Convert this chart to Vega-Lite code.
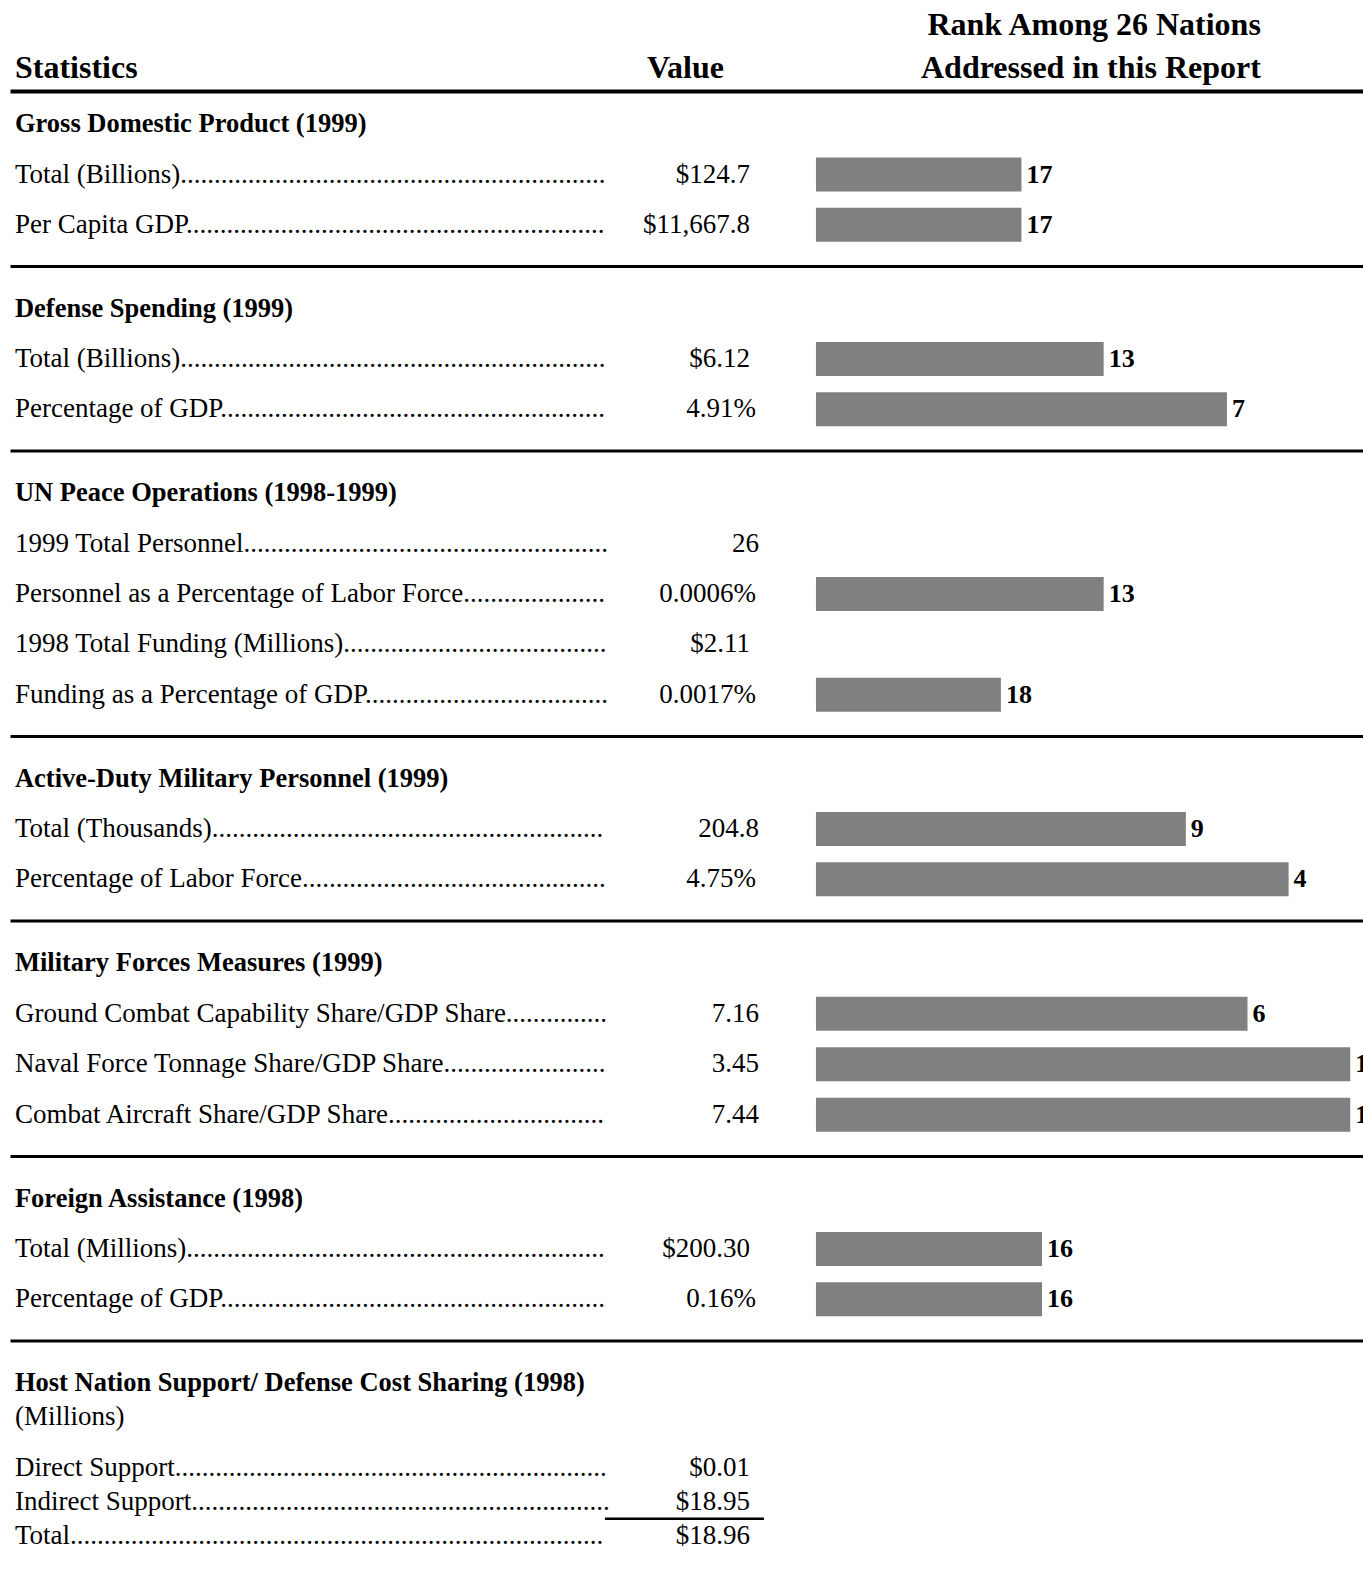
{
  "$schema": "https://vega.github.io/schema/vega-lite/v6.json",
  "padding": {"left": 10, "top": 4, "right": 0, "bottom": 0},
  "background": "white",
  "config": {"view": {"stroke": null}, "font": "Liberation Serif"},
  "datasets": {
    "header": [
      {"col": "stats", "line": "t2", "text": "Statistics"},
      {"col": "value", "line": "t2", "text": "Value"},
      {"col": "rank", "line": "t1", "text": "Rank Among 26 Nations"},
      {"col": "rank", "line": "t2", "text": "Addressed in this Report"}
    ],
    "stats": [
      {"section": "gdp", "key": "h", "kind": "header", "label": "Gross Domestic Product (1999)", "value": null, "unit": null, "rank": null},
      {"section": "gdp", "key": "r1", "kind": "item", "label": "Total (Billions)", "value": "$124.7", "unit": "usd", "rank": 17},
      {"section": "gdp", "key": "r2", "kind": "item", "label": "Per Capita GDP", "value": "$11,667.8", "unit": "usd", "rank": 17},
      {"section": "def", "key": "h", "kind": "header", "label": "Defense Spending (1999)", "value": null, "unit": null, "rank": null},
      {"section": "def", "key": "r1", "kind": "item", "label": "Total (Billions)", "value": "$6.12", "unit": "usd", "rank": 13},
      {"section": "def", "key": "r2", "kind": "item", "label": "Percentage of GDP", "value": "4.91%", "unit": "pct", "rank": 7},
      {"section": "un", "key": "h", "kind": "header", "label": "UN Peace Operations (1998-1999)", "value": null, "unit": null, "rank": null},
      {"section": "un", "key": "r1", "kind": "item", "label": "1999 Total Personnel", "value": "26", "unit": "num", "rank": null},
      {"section": "un", "key": "r2", "kind": "item", "label": "Personnel as a Percentage of Labor Force", "value": "0.0006%", "unit": "pct", "rank": 13},
      {"section": "un", "key": "r3", "kind": "item", "label": "1998 Total Funding (Millions)", "value": "$2.11", "unit": "usd", "rank": null},
      {"section": "un", "key": "r4", "kind": "item", "label": "Funding as a Percentage of GDP", "value": "0.0017%", "unit": "pct", "rank": 18},
      {"section": "act", "key": "h", "kind": "header", "label": "Active-Duty Military Personnel (1999)", "value": null, "unit": null, "rank": null},
      {"section": "act", "key": "r1", "kind": "item", "label": "Total (Thousands)", "value": "204.8", "unit": "num", "rank": 9},
      {"section": "act", "key": "r2", "kind": "item", "label": "Percentage of Labor Force", "value": "4.75%", "unit": "pct", "rank": 4},
      {"section": "mil", "key": "h", "kind": "header", "label": "Military Forces Measures (1999)", "value": null, "unit": null, "rank": null},
      {"section": "mil", "key": "r1", "kind": "item", "label": "Ground Combat Capability Share/GDP Share", "value": "7.16", "unit": "num", "rank": 6},
      {"section": "mil", "key": "r2", "kind": "item", "label": "Naval Force Tonnage Share/GDP Share", "value": "3.45", "unit": "num", "rank": 1},
      {"section": "mil", "key": "r3", "kind": "item", "label": "Combat Aircraft Share/GDP Share", "value": "7.44", "unit": "num", "rank": 1},
      {"section": "fa", "key": "h", "kind": "header", "label": "Foreign Assistance (1998)", "value": null, "unit": null, "rank": null},
      {"section": "fa", "key": "r1", "kind": "item", "label": "Total (Millions)", "value": "$200.30", "unit": "usd", "rank": 16},
      {"section": "fa", "key": "r2", "kind": "item", "label": "Percentage of GDP", "value": "0.16%", "unit": "pct", "rank": 16},
      {"section": "host", "key": "h", "kind": "header", "label": "Host Nation Support/ Defense Cost Sharing (1998)", "value": null, "unit": null, "rank": null},
      {"section": "host", "key": "m", "kind": "note", "label": "(Millions)", "value": null, "unit": null, "rank": null},
      {"section": "host", "key": "r1", "kind": "item", "label": "Direct Support", "value": "$0.01", "unit": "usd", "rank": null},
      {"section": "host", "key": "r2", "kind": "item", "label": "Indirect Support", "value": "$18.95", "unit": "usd", "rank": null},
      {"section": "host", "key": "r3", "kind": "item", "label": "Total", "value": "$18.96", "unit": "usd", "rank": null}
    ]
  },
  "bounds": "flush",
  "spacing": 10,
  "resolve": {"scale": {"x": "independent", "y": "independent"}},
  "vconcat": [
    {
      "width": 1353, "height": 85,
      "data": {"name": "header"},
      "encoding": {
        "y": {"field": "line", "type": "nominal", "scale": {"domain": ["t1", "t2"], "paddingInner": 0, "paddingOuter": 0}, "axis": null},
        "text": {"field": "text"}
      },
      "layer": [
        {"transform": [{"filter": "datum.col === 'stats'"}],
         "mark": {"type": "text", "align": "left", "baseline": "middle", "font": "Liberation Serif", "fontSize": 32, "fontWeight": "bold", "color": "black"},
         "encoding": {"x": {"datum": 65.98, "scale": {"domain": [0.38, 66.22], "reverse": true, "zero": false, "nice": false}, "axis": {"orient": "bottom", "offset": 2, "domain": true, "domainColor": "black", "domainWidth": 4, "ticks": false, "labels": false, "grid": false, "title": null}}}},
        {"transform": [{"filter": "datum.col === 'value'"}],
         "mark": {"type": "text", "align": "center", "baseline": "middle", "font": "Liberation Serif", "fontSize": 32, "fontWeight": "bold", "color": "black"},
         "encoding": {"x": {"datum": 33.35, "scale": {"domain": [0.38, 66.22], "reverse": true, "zero": false, "nice": false}, "axis": {"orient": "bottom", "offset": 2, "domain": true, "domainColor": "black", "domainWidth": 4, "ticks": false, "labels": false, "grid": false, "title": null}}}},
        {"transform": [{"filter": "datum.col === 'rank'"}],
         "mark": {"type": "text", "align": "right", "baseline": "middle", "font": "Liberation Serif", "fontSize": 32, "fontWeight": "bold", "color": "black"},
         "encoding": {"x": {"datum": 5.35, "scale": {"domain": [0.38, 66.22], "reverse": true, "zero": false, "nice": false}, "axis": {"orient": "bottom", "offset": 2, "domain": true, "domainColor": "black", "domainWidth": 4, "ticks": false, "labels": false, "grid": false, "title": null}}}}
      ]
    },
    {
      "bounds": "flush",
      "spacing": 33.5,
      "resolve": {"scale": {"x": "independent", "y": "independent"}},
      "vconcat": [
        {
          "width": 1353, "height": 151,
          "data": {"name": "stats"},
          "transform": [{"filter": "datum.section === 'gdp'"}],
          "encoding": {"y": {"field": "key", "type": "nominal", "scale": {"domain": ["h", "r1", "r2"], "paddingInner": 0, "paddingOuter": 0}, "axis": null}},
          "layer": [
            {"transform": [{"filter": "datum.kind === 'header'"}],
             "mark": {"type": "text", "align": "left", "baseline": "middle", "font": "Liberation Serif", "fontSize": 26.5, "fontWeight": "bold", "color": "black"},
             "encoding": {"x": {"datum": 65.98, "scale": {"domain": [0.38, 66.22], "reverse": true, "zero": false, "nice": false}, "axis": {"orient": "bottom", "offset": 16, "domain": true, "domainColor": "black", "domainWidth": 3, "ticks": false, "labels": false, "grid": false, "title": null}}, "text": {"field": "label"}}},
            {"transform": [{"filter": "datum.kind === 'item'"}, {"calculate": "pad(datum.label, 150, '.')", "as": "leader"}],
             "mark": {"type": "text", "align": "left", "baseline": "middle", "font": "Liberation Serif", "fontSize": 27, "limit": 595, "ellipsis": ".", "color": "black"},
             "encoding": {"x": {"datum": 65.98}, "text": {"field": "leader"}}},
            {"transform": [{"filter": "datum.kind === 'item'"}],
             "mark": {"type": "text", "align": "right", "baseline": "middle", "font": "Liberation Serif", "fontSize": 27, "color": "black", "dx": {"expr": "datum.unit === 'usd' ? -9 : (datum.unit === 'pct' ? -3 : 0)"}},
             "encoding": {"x": {"datum": 29.77}, "text": {"field": "value"}}},
            {"transform": [{"filter": "isValid(datum.rank)"}],
             "mark": {"type": "bar", "height": 34, "color": "#808080"},
             "encoding": {"x": {"field": "rank", "type": "quantitative"}, "x2": {"datum": 27}}},
            {"transform": [{"filter": "isValid(datum.rank)"}],
             "mark": {"type": "text", "align": "left", "baseline": "middle", "dx": 5, "font": "Liberation Serif", "fontSize": 26, "fontWeight": "bold", "clip": true, "color": "black"},
             "encoding": {"x": {"field": "rank", "type": "quantitative"}, "text": {"field": "rank", "type": "quantitative"}}}
          ]
        },
        {
          "width": 1353, "height": 151,
          "data": {"name": "stats"},
          "transform": [{"filter": "datum.section === 'def'"}],
          "encoding": {"y": {"field": "key", "type": "nominal", "scale": {"domain": ["h", "r1", "r2"], "paddingInner": 0, "paddingOuter": 0}, "axis": null}},
          "layer": [
            {"transform": [{"filter": "datum.kind === 'header'"}],
             "mark": {"type": "text", "align": "left", "baseline": "middle", "font": "Liberation Serif", "fontSize": 26.5, "fontWeight": "bold", "color": "black"},
             "encoding": {"x": {"datum": 65.98, "scale": {"domain": [0.38, 66.22], "reverse": true, "zero": false, "nice": false}, "axis": {"orient": "bottom", "offset": 16, "domain": true, "domainColor": "black", "domainWidth": 3, "ticks": false, "labels": false, "grid": false, "title": null}}, "text": {"field": "label"}}},
            {"transform": [{"filter": "datum.kind === 'item'"}, {"calculate": "pad(datum.label, 150, '.')", "as": "leader"}],
             "mark": {"type": "text", "align": "left", "baseline": "middle", "font": "Liberation Serif", "fontSize": 27, "limit": 595, "ellipsis": ".", "color": "black"},
             "encoding": {"x": {"datum": 65.98}, "text": {"field": "leader"}}},
            {"transform": [{"filter": "datum.kind === 'item'"}],
             "mark": {"type": "text", "align": "right", "baseline": "middle", "font": "Liberation Serif", "fontSize": 27, "color": "black", "dx": {"expr": "datum.unit === 'usd' ? -9 : (datum.unit === 'pct' ? -3 : 0)"}},
             "encoding": {"x": {"datum": 29.77}, "text": {"field": "value"}}},
            {"transform": [{"filter": "isValid(datum.rank)"}],
             "mark": {"type": "bar", "height": 34, "color": "#808080"},
             "encoding": {"x": {"field": "rank", "type": "quantitative"}, "x2": {"datum": 27}}},
            {"transform": [{"filter": "isValid(datum.rank)"}],
             "mark": {"type": "text", "align": "left", "baseline": "middle", "dx": 5, "font": "Liberation Serif", "fontSize": 26, "fontWeight": "bold", "clip": true, "color": "black"},
             "encoding": {"x": {"field": "rank", "type": "quantitative"}, "text": {"field": "rank", "type": "quantitative"}}}
          ]
        },
        {
          "width": 1353, "height": 252,
          "data": {"name": "stats"},
          "transform": [{"filter": "datum.section === 'un'"}],
          "encoding": {"y": {"field": "key", "type": "nominal", "scale": {"domain": ["h", "r1", "r2", "r3", "r4"], "paddingInner": 0, "paddingOuter": 0}, "axis": null}},
          "layer": [
            {"transform": [{"filter": "datum.kind === 'header'"}],
             "mark": {"type": "text", "align": "left", "baseline": "middle", "font": "Liberation Serif", "fontSize": 26.5, "fontWeight": "bold", "color": "black"},
             "encoding": {"x": {"datum": 65.98, "scale": {"domain": [0.38, 66.22], "reverse": true, "zero": false, "nice": false}, "axis": {"orient": "bottom", "offset": 16, "domain": true, "domainColor": "black", "domainWidth": 3, "ticks": false, "labels": false, "grid": false, "title": null}}, "text": {"field": "label"}}},
            {"transform": [{"filter": "datum.kind === 'item'"}, {"calculate": "pad(datum.label, 150, '.')", "as": "leader"}],
             "mark": {"type": "text", "align": "left", "baseline": "middle", "font": "Liberation Serif", "fontSize": 27, "limit": 595, "ellipsis": ".", "color": "black"},
             "encoding": {"x": {"datum": 65.98}, "text": {"field": "leader"}}},
            {"transform": [{"filter": "datum.kind === 'item'"}],
             "mark": {"type": "text", "align": "right", "baseline": "middle", "font": "Liberation Serif", "fontSize": 27, "color": "black", "dx": {"expr": "datum.unit === 'usd' ? -9 : (datum.unit === 'pct' ? -3 : 0)"}},
             "encoding": {"x": {"datum": 29.77}, "text": {"field": "value"}}},
            {"transform": [{"filter": "isValid(datum.rank)"}],
             "mark": {"type": "bar", "height": 34, "color": "#808080"},
             "encoding": {"x": {"field": "rank", "type": "quantitative"}, "x2": {"datum": 27}}},
            {"transform": [{"filter": "isValid(datum.rank)"}],
             "mark": {"type": "text", "align": "left", "baseline": "middle", "dx": 5, "font": "Liberation Serif", "fontSize": 26, "fontWeight": "bold", "clip": true, "color": "black"},
             "encoding": {"x": {"field": "rank", "type": "quantitative"}, "text": {"field": "rank", "type": "quantitative"}}}
          ]
        },
        {
          "width": 1353, "height": 151,
          "data": {"name": "stats"},
          "transform": [{"filter": "datum.section === 'act'"}],
          "encoding": {"y": {"field": "key", "type": "nominal", "scale": {"domain": ["h", "r1", "r2"], "paddingInner": 0, "paddingOuter": 0}, "axis": null}},
          "layer": [
            {"transform": [{"filter": "datum.kind === 'header'"}],
             "mark": {"type": "text", "align": "left", "baseline": "middle", "font": "Liberation Serif", "fontSize": 26.5, "fontWeight": "bold", "color": "black"},
             "encoding": {"x": {"datum": 65.98, "scale": {"domain": [0.38, 66.22], "reverse": true, "zero": false, "nice": false}, "axis": {"orient": "bottom", "offset": 16, "domain": true, "domainColor": "black", "domainWidth": 3, "ticks": false, "labels": false, "grid": false, "title": null}}, "text": {"field": "label"}}},
            {"transform": [{"filter": "datum.kind === 'item'"}, {"calculate": "pad(datum.label, 150, '.')", "as": "leader"}],
             "mark": {"type": "text", "align": "left", "baseline": "middle", "font": "Liberation Serif", "fontSize": 27, "limit": 595, "ellipsis": ".", "color": "black"},
             "encoding": {"x": {"datum": 65.98}, "text": {"field": "leader"}}},
            {"transform": [{"filter": "datum.kind === 'item'"}],
             "mark": {"type": "text", "align": "right", "baseline": "middle", "font": "Liberation Serif", "fontSize": 27, "color": "black", "dx": {"expr": "datum.unit === 'usd' ? -9 : (datum.unit === 'pct' ? -3 : 0)"}},
             "encoding": {"x": {"datum": 29.77}, "text": {"field": "value"}}},
            {"transform": [{"filter": "isValid(datum.rank)"}],
             "mark": {"type": "bar", "height": 34, "color": "#808080"},
             "encoding": {"x": {"field": "rank", "type": "quantitative"}, "x2": {"datum": 27}}},
            {"transform": [{"filter": "isValid(datum.rank)"}],
             "mark": {"type": "text", "align": "left", "baseline": "middle", "dx": 5, "font": "Liberation Serif", "fontSize": 26, "fontWeight": "bold", "clip": true, "color": "black"},
             "encoding": {"x": {"field": "rank", "type": "quantitative"}, "text": {"field": "rank", "type": "quantitative"}}}
          ]
        },
        {
          "width": 1353, "height": 202,
          "data": {"name": "stats"},
          "transform": [{"filter": "datum.section === 'mil'"}],
          "encoding": {"y": {"field": "key", "type": "nominal", "scale": {"domain": ["h", "r1", "r2", "r3"], "paddingInner": 0, "paddingOuter": 0}, "axis": null}},
          "layer": [
            {"transform": [{"filter": "datum.kind === 'header'"}],
             "mark": {"type": "text", "align": "left", "baseline": "middle", "font": "Liberation Serif", "fontSize": 26.5, "fontWeight": "bold", "color": "black"},
             "encoding": {"x": {"datum": 65.98, "scale": {"domain": [0.38, 66.22], "reverse": true, "zero": false, "nice": false}, "axis": {"orient": "bottom", "offset": 16, "domain": true, "domainColor": "black", "domainWidth": 3, "ticks": false, "labels": false, "grid": false, "title": null}}, "text": {"field": "label"}}},
            {"transform": [{"filter": "datum.kind === 'item'"}, {"calculate": "pad(datum.label, 150, '.')", "as": "leader"}],
             "mark": {"type": "text", "align": "left", "baseline": "middle", "font": "Liberation Serif", "fontSize": 27, "limit": 595, "ellipsis": ".", "color": "black"},
             "encoding": {"x": {"datum": 65.98}, "text": {"field": "leader"}}},
            {"transform": [{"filter": "datum.kind === 'item'"}],
             "mark": {"type": "text", "align": "right", "baseline": "middle", "font": "Liberation Serif", "fontSize": 27, "color": "black", "dx": {"expr": "datum.unit === 'usd' ? -9 : (datum.unit === 'pct' ? -3 : 0)"}},
             "encoding": {"x": {"datum": 29.77}, "text": {"field": "value"}}},
            {"transform": [{"filter": "isValid(datum.rank)"}],
             "mark": {"type": "bar", "height": 34, "color": "#808080"},
             "encoding": {"x": {"field": "rank", "type": "quantitative"}, "x2": {"datum": 27}}},
            {"transform": [{"filter": "isValid(datum.rank)"}],
             "mark": {"type": "text", "align": "left", "baseline": "middle", "dx": 5, "font": "Liberation Serif", "fontSize": 26, "fontWeight": "bold", "clip": true, "color": "black"},
             "encoding": {"x": {"field": "rank", "type": "quantitative"}, "text": {"field": "rank", "type": "quantitative"}}}
          ]
        },
        {
          "width": 1353, "height": 151,
          "data": {"name": "stats"},
          "transform": [{"filter": "datum.section === 'fa'"}],
          "encoding": {"y": {"field": "key", "type": "nominal", "scale": {"domain": ["h", "r1", "r2"], "paddingInner": 0, "paddingOuter": 0}, "axis": null}},
          "layer": [
            {"transform": [{"filter": "datum.kind === 'header'"}],
             "mark": {"type": "text", "align": "left", "baseline": "middle", "font": "Liberation Serif", "fontSize": 26.5, "fontWeight": "bold", "color": "black"},
             "encoding": {"x": {"datum": 65.98, "scale": {"domain": [0.38, 66.22], "reverse": true, "zero": false, "nice": false}, "axis": {"orient": "bottom", "offset": 16, "domain": true, "domainColor": "black", "domainWidth": 3, "ticks": false, "labels": false, "grid": false, "title": null}}, "text": {"field": "label"}}},
            {"transform": [{"filter": "datum.kind === 'item'"}, {"calculate": "pad(datum.label, 150, '.')", "as": "leader"}],
             "mark": {"type": "text", "align": "left", "baseline": "middle", "font": "Liberation Serif", "fontSize": 27, "limit": 595, "ellipsis": ".", "color": "black"},
             "encoding": {"x": {"datum": 65.98}, "text": {"field": "leader"}}},
            {"transform": [{"filter": "datum.kind === 'item'"}],
             "mark": {"type": "text", "align": "right", "baseline": "middle", "font": "Liberation Serif", "fontSize": 27, "color": "black", "dx": {"expr": "datum.unit === 'usd' ? -9 : (datum.unit === 'pct' ? -3 : 0)"}},
             "encoding": {"x": {"datum": 29.77}, "text": {"field": "value"}}},
            {"transform": [{"filter": "isValid(datum.rank)"}],
             "mark": {"type": "bar", "height": 34, "color": "#808080"},
             "encoding": {"x": {"field": "rank", "type": "quantitative"}, "x2": {"datum": 27}}},
            {"transform": [{"filter": "isValid(datum.rank)"}],
             "mark": {"type": "text", "align": "left", "baseline": "middle", "dx": 5, "font": "Liberation Serif", "fontSize": 26, "fontWeight": "bold", "clip": true, "color": "black"},
             "encoding": {"x": {"field": "rank", "type": "quantitative"}, "text": {"field": "rank", "type": "quantitative"}}}
          ]
        },
        {
          "width": 1353, "height": 186,
          "data": {"name": "stats"},
          "transform": [{"filter": "datum.section === 'host'"}],
          "encoding": {"y": {"field": "key", "type": "nominal", "scale": {"domain": ["s0", "h", "s1", "m", "s2", "s3", "r1", "s4", "r2", "u", "r3"], "paddingInner": 0, "paddingOuter": 0}, "axis": null}},
          "layer": [
            {"transform": [{"filter": "datum.kind === 'header'"}],
             "mark": {"type": "text", "align": "left", "baseline": "middle", "font": "Liberation Serif", "fontSize": 26.5, "fontWeight": "bold", "color": "black"},
             "encoding": {"x": {"datum": 65.98, "scale": {"domain": [0.38, 66.22], "reverse": true, "zero": false, "nice": false}, "axis": null}, "text": {"field": "label"}}},
            {"transform": [{"filter": "datum.kind === 'note'"}],
             "mark": {"type": "text", "align": "left", "baseline": "middle", "font": "Liberation Serif", "fontSize": 27, "color": "black"},
             "encoding": {"x": {"datum": 65.98}, "text": {"field": "label"}}},
            {"transform": [{"filter": "datum.kind === 'item'"}, {"calculate": "pad(datum.label, 150, '.')", "as": "leader"}],
             "mark": {"type": "text", "align": "left", "baseline": "middle", "font": "Liberation Serif", "fontSize": 27, "limit": 595, "ellipsis": ".", "color": "black"},
             "encoding": {"x": {"datum": 65.98}, "text": {"field": "leader"}}},
            {"transform": [{"filter": "datum.kind === 'item'"}],
             "mark": {"type": "text", "align": "right", "baseline": "middle", "font": "Liberation Serif", "fontSize": 27, "color": "black", "dx": {"expr": "datum.unit === 'usd' ? -9 : (datum.unit === 'pct' ? -3 : 0)"}},
             "encoding": {"x": {"datum": 29.77}, "text": {"field": "value"}}},
            {"transform": [{"filter": "datum.key === 'r2'"}],
             "mark": {"type": "rule", "strokeWidth": 2.5, "color": "black"},
             "encoding": {"x": {"datum": 37.27}, "x2": {"datum": 29.53}, "y": {"datum": "u", "type": "nominal"}}}
          ]
        }
      ]
    }
  ]
}
